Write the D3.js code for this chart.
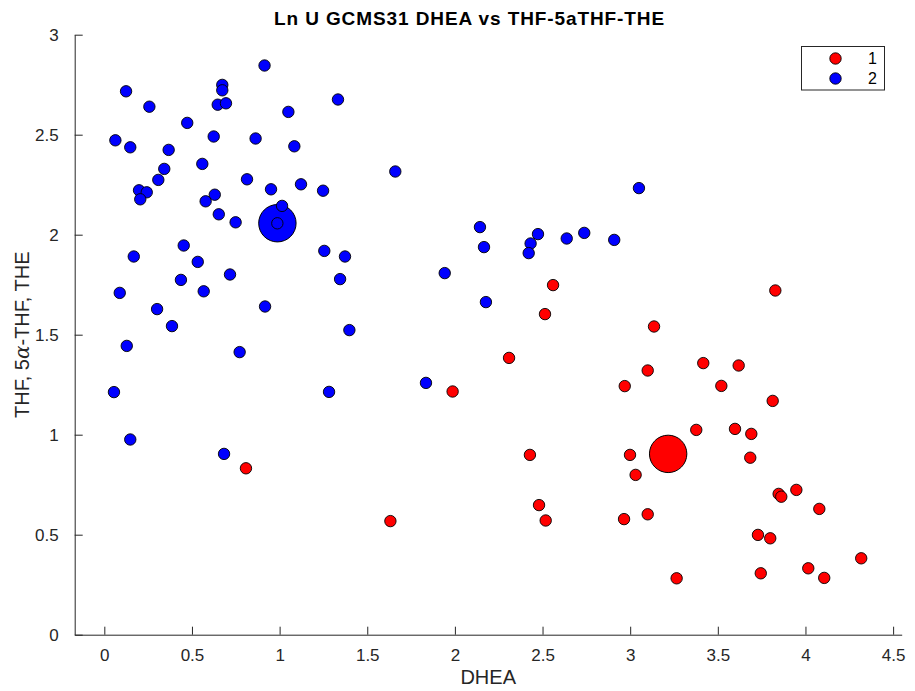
<!DOCTYPE html>
<html>
<head>
<meta charset="utf-8">
<script src="https://cdn.jsdelivr.net/npm/d3@7"></script>
<style>
  html, body { margin: 0; padding: 0; background: #fff; }
  svg text { font-family: "Liberation Sans", Arial, Helvetica, sans-serif; }
</style>
</head>
<body>
<svg id="chart" width="915" height="691"></svg>
<script>
// Group labels and colours
const groupNames = ["1", "2"];
const groupColors = ["#ff0000", "#0000ff"];

// Group 1 (red)
const group1X = [0.808, 2.560, 2.514, 2.309, 1.987, 2.969, 2.428, 2.999, 3.031, 2.480, 2.518, 1.632, 2.965,
  3.828, 3.136, 3.417, 3.619, 3.100, 3.520, 3.813, 3.377, 3.598, 3.691, 3.685,
  3.100, 3.265, 3.847, 3.862, 3.948, 4.079, 3.729, 3.799, 4.318, 4.016, 4.107, 3.745];
const group1Y = [0.832, 1.748, 1.603, 1.384, 1.216, 1.243, 0.899, 0.899, 0.799, 0.648, 0.571, 0.568, 0.578,
  1.721, 1.541, 1.358, 1.346, 1.321, 1.244, 1.169, 1.024, 1.029, 1.004, 0.885,
  0.602, 0.282, 0.704, 0.690, 0.724, 0.629, 0.499, 0.482, 0.382, 0.332, 0.284, 0.307];

// Group 2 (blue)
const group2X = [0.914, 0.124, 0.673, 0.673, 0.257, 0.647, 0.694, 1.333, 1.050, 0.473, 0.063, 0.148, 0.624,
  0.863, 1.084, 0.367, 0.559, 0.342, 0.308, 0.814, 0.198, 0.242, 0.205, 0.951, 1.122, 1.248, 0.630,
  0.578, 1.014, 0.653, 0.749, 0.987, 0.453, 1.255,
  0.168, 1.373, 0.533, 0.717, 0.437, 1.345, 0.567, 0.088, 0.917, 0.301, 0.386, 1.398, 0.128, 0.772,
  0.055, 1.282, 0.148, 0.683,
  1.660, 3.050, 2.143, 2.474, 2.432, 2.421, 2.166, 2.638, 2.738, 2.909, 1.942, 2.177, 1.835];
const group2Y = [2.846, 2.717, 2.749, 2.722, 2.640, 2.650, 2.657, 2.676, 2.614, 2.559, 2.472, 2.437, 2.491,
  2.481, 2.442, 2.424, 2.354, 2.329, 2.274, 2.277, 2.222, 2.212, 2.177, 2.227, 2.252, 2.220, 2.200,
  2.167, 2.144, 2.102, 2.062, 2.057, 1.946, 1.919,
  1.891, 1.891, 1.864, 1.801, 1.774, 1.778, 1.717, 1.709, 1.641, 1.628, 1.543, 1.523, 1.444, 1.413,
  1.213, 1.214, 0.976, 0.904,
  2.316, 2.233, 2.038, 2.003, 1.956, 1.908, 1.938, 1.981, 2.009, 1.974, 1.808, 1.663, 1.259];

// Axis ticks
const xTicks = [0, 0.5, 1, 1.5, 2, 2.5, 3, 3.5, 4, 4.5];
const yTicks = [0, 0.5, 1, 1.5, 2, 2.5, 3];
const xDomain = [-0.169, 4.549];
const yDomain = [0, 3];

const titleText = "Ln U GCMS31 DHEA vs THF-5aTHF-THE";
const xLabelText = "DHEA";

const plot = { left: 74.7, right: 901.7, top: 34.7, bottom: 634.7 };
const axisColor = "#262626";

const svg = d3.select("#chart");

const x = d3.scaleLinear().domain(xDomain).range([plot.left, plot.right]);
const y = d3.scaleLinear().domain(yDomain).range([plot.bottom, plot.top]);

const groups = [
  { name: groupNames[0], color: groupColors[0], pts: group1X.map((v, i) => [v, group1Y[i]]) },
  { name: groupNames[1], color: groupColors[1], pts: group2X.map((v, i) => [v, group2Y[i]]) }
];

// Axes (ticks pointing inward, no box)
const fmt = d => String(d);
const xAxis = d3.axisBottom(x).tickValues(xTicks).tickFormat(fmt).tickSizeInner(-8).tickSizeOuter(0).tickPadding(14);
const yAxis = d3.axisLeft(y).tickValues(yTicks).tickFormat(fmt).tickSizeInner(-8).tickSizeOuter(0).tickPadding(16);

const gx = svg.append("g").attr("transform", `translate(0,${plot.bottom})`).call(xAxis);
const gy = svg.append("g").attr("transform", `translate(${plot.left},0)`).call(yAxis);
[gx, gy].forEach(g => {
  g.select(".domain").attr("stroke", axisColor).attr("stroke-width", 1);
  g.selectAll(".tick line").attr("stroke", axisColor).attr("stroke-width", 1);
  g.selectAll(".tick text").attr("fill", axisColor).style("font-size", "17px")
    .style("font-family", "'Liberation Sans', Arial, Helvetica, sans-serif");
});
gx.selectAll(".tick text").attr("dy", "0.71em");

// Group means drawn first, individual points on top
const means = groups.map(g => ({
  color: g.color,
  mx: d3.mean(g.pts, p => p[0]),
  my: d3.mean(g.pts, p => p[1])
}));
svg.append("g").selectAll("circle").data(means).join("circle")
  .attr("cx", d => x(d.mx)).attr("cy", d => y(d.my)).attr("r", 18.7)
  .attr("fill", d => d.color).attr("stroke", "#000").attr("stroke-width", 1);

groups.forEach(g => {
  svg.append("g").selectAll("circle").data(g.pts).join("circle")
    .attr("cx", d => x(d[0])).attr("cy", d => y(d[1])).attr("r", 5.7)
    .attr("fill", g.color).attr("stroke", "#000").attr("stroke-width", 0.9);
});

// Title
svg.append("text").attr("x", 469.5).attr("y", 25)
  .attr("text-anchor", "middle").style("font-size", "19px").style("font-weight", "bold")
  .style("letter-spacing", "0.9px")
  .attr("fill", "#000").text(titleText);

// X label
svg.append("text").attr("x", (plot.left + plot.right) / 2).attr("y", 684)
  .attr("text-anchor", "middle").style("font-size", "20px").attr("fill", axisColor).text(xLabelText);

// Y label with Greek alpha
const yl = svg.append("text")
  .attr("transform", `translate(29,${(plot.top + plot.bottom) / 2}) rotate(-90)`)
  .attr("text-anchor", "middle").style("font-size", "20px").attr("fill", axisColor);
yl.append("tspan").text("THF, 5");
yl.append("tspan").style("font-style", "italic").style("font-family", "'DejaVu Serif', serif").text("α");
yl.append("tspan").text("-THF, THE");

// Legend
const leg = svg.append("g");
leg.append("rect").attr("x", 801.5).attr("y", 46.5).attr("width", 83).attr("height", 43.5)
  .attr("fill", "#fff").attr("stroke", axisColor).attr("stroke-width", 1);
groups.forEach((g, i) => {
  const cy = 58.5 + i * 20;
  leg.append("circle").attr("cx", 835.5).attr("cy", cy).attr("r", 5.7)
    .attr("fill", g.color).attr("stroke", "#000").attr("stroke-width", 0.9);
  leg.append("text").attr("x", 877).attr("y", cy).attr("dy", "0.36em")
    .attr("text-anchor", "end").style("font-size", "16px").attr("fill", "#000").text(g.name);
});
</script>
</body>
</html>
